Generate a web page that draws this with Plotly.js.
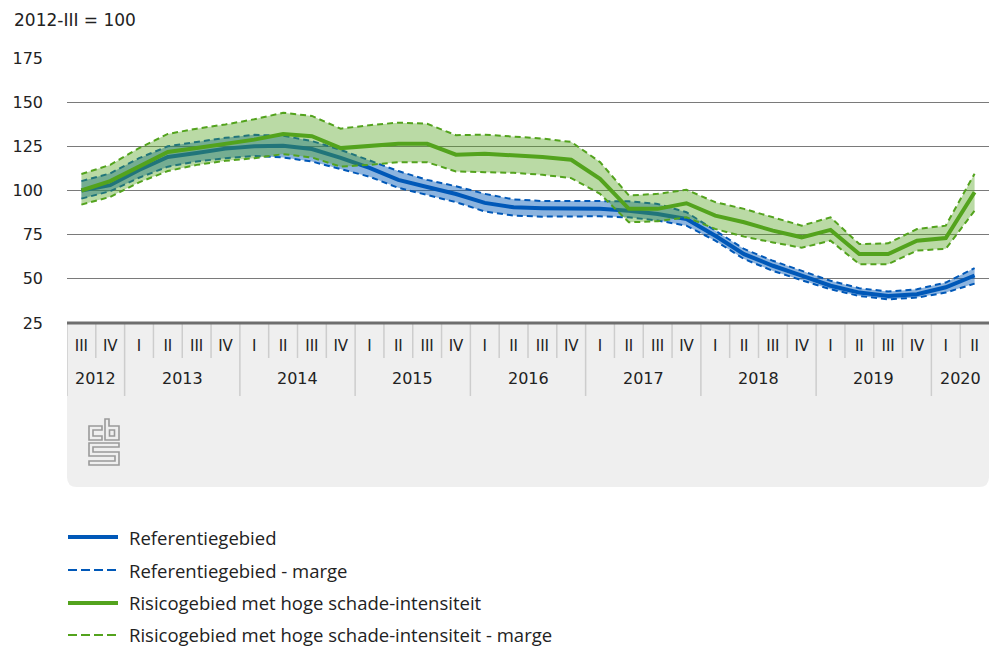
<!DOCTYPE html>
<html>
<head>
<meta charset="utf-8">
<script src="https://cdn.plot.ly/plotly-3.0.1.min.js"></script>
<style>
html,body{margin:0;padding:0;background:#fff;}
#chart{width:989px;height:651px;}
</style>
</head>
<body>
<div id="chart"></div>
<script>
const quarters = ["2012-III","2012-IV",
  "2013-I","2013-II","2013-III","2013-IV",
  "2014-I","2014-II","2014-III","2014-IV",
  "2015-I","2015-II","2015-III","2015-IV",
  "2016-I","2016-II","2016-III","2016-IV",
  "2017-I","2017-II","2017-III","2017-IV",
  "2018-I","2018-II","2018-III","2018-IV",
  "2019-I","2019-II","2019-III","2019-IV",
  "2020-I","2020-II"];
const quarterLabels = ["III","IV","I","II","III","IV","I","II","III","IV","I","II","III","IV",
  "I","II","III","IV","I","II","III","IV","I","II","III","IV","I","II","III","IV","I","II"];
const yearLabels = ["2012","2013","2014","2015","2016","2017","2018","2019","2020"];

const refMain = [100,103,111.6,119,121.2,123.7,125,125.3,123.5,118.5,112.8,106,102,98,93,90.5,
  90,89.7,89.6,88.6,86.7,83.9,74.4,64,57.4,51.8,46.1,42.2,40.3,41.3,45.2,51.9];
const refUpper = [105.3,109.7,118.3,125,127.5,129.8,131.5,131,128,123,117,111,106,102.4,98.1,95,
  94,93.8,94,93.9,92.4,87.7,77.3,66.9,60.2,54.5,48.9,44.7,42.8,44.1,47.9,56.1];
const refLower = [95.4,99.6,107.2,113.5,116.4,118.3,119.5,118.7,116.4,112,107.8,101.5,97.3,93.4,88.1,85.8,
  85.2,85.2,85.4,84.8,83,80.1,71.6,61.2,54.5,49.2,44.1,40.3,38.4,39.4,42.2,47.3];

const riskMain = [100,105.3,113.5,121.8,124,126.5,128.8,132,130.7,124,125,126.4,126.4,120.3,120.8,119.9,
  118.9,117.4,106.6,89.6,89.6,92.8,85.8,82,77.3,73.5,77.7,64,64,71.6,73.1,99];
const riskUpper = [109.3,114.5,124,132,135,137.4,140.3,144,142.2,135,137,138.4,137.8,131.3,131.6,130.3,
  129.4,127.5,116.1,97.2,98.1,100.4,93.4,89.6,84.8,80.1,84.8,69.7,70.1,78.2,80.1,109.5];
const riskLower = [92,96.4,104.6,111,114.5,116.8,118.3,120.6,118.7,113.5,114.5,116,116,110.8,110.4,110,
  108.9,107,98.1,82,82.6,84.8,78.2,73.9,70.6,67.6,71.6,58.3,58.3,66,67,88.6];

const legendNames = ["Referentiegebied","Referentiegebied - marge",
  "Risicogebied met hoge schade-intensiteit","Risicogebied met hoge schade-intensiteit - marge"];
const yTitle = "2012-III = 100";

const BLUE = "#0058b8", GREEN = "#53a31d";
const DASH = "6px,4px";

const traces = [
  {x: quarters, y: refUpper, mode:"lines", line:{color:BLUE, width:2, dash:DASH}, hoverinfo:"skip"},
  {x: quarters, y: refLower, mode:"lines", line:{color:BLUE, width:2, dash:DASH}, fill:"tonexty",
   fillcolor:"rgba(0,88,184,0.45)", hoverinfo:"skip"},
  {x: quarters, y: refMain, mode:"lines", line:{color:BLUE, width:4}, hoverinfo:"skip"},
  {x: quarters, y: riskUpper, mode:"lines", line:{color:GREEN, width:2, dash:DASH}, hoverinfo:"skip"},
  {x: quarters, y: riskLower, mode:"lines", line:{color:GREEN, width:2, dash:DASH}, fill:"tonexty",
   fillcolor:"rgba(83,163,29,0.4)", hoverinfo:"skip"},
  {x: quarters, y: riskMain, mode:"lines", line:{color:GREEN, width:4}, hoverinfo:"skip"}
];

// geometry helpers (plot area: x 67..989, y 58..323)
const PL = 67, PW = 922, PT = 58, PH = 265;
const px2x = p => (p - PL) / PW;
const py2y = p => (PT + PH - p) / PH;

const shapes = [];
const annotations = [];

// grey panel under the axis
const pTop = 0, pBot = py2y(487), rx = 10/PW, ry = 10/PH;
shapes.push({type:"path", xref:"paper", yref:"paper", layer:"below",
  path:`M 0,${pTop} L 1,${pTop} L 1,${pBot+ry} Q 1,${pBot} ${1-rx},${pBot} L ${rx},${pBot} Q 0,${pBot} 0,${pBot+ry} Z`,
  fillcolor:"#efefef", line:{width:0}});

// separators
const sepTop = 0, sepShort = py2y(358), sepLong = py2y(396);
shapes.push({type:"line", xref:"x", yref:"paper", x0:-0.5, x1:-0.5, y0:sepTop, y1:sepLong,
  line:{color:"#cdcdcd", width:1.5}});
for (let i = 1; i < quarters.length; i++) {
  const isYear = quarters[i].endsWith("-I");
  shapes.push({type:"line", xref:"x", yref:"paper", x0:i-0.5, x1:i-0.5, y0:sepTop,
    y1: isYear ? sepLong : sepShort, line:{color:"#cdcdcd", width:1.5}});
}

// year labels
yearLabels.forEach(yr => {
  const idx = quarters.map((q,i)=>q.startsWith(yr)?i:-1).filter(i=>i>=0);
  const mid = (idx[0] + idx[idx.length-1]) / 2;
  annotations.push({xref:"x", yref:"paper", x:mid, y:py2y(378), text:yr, showarrow:false,
    xanchor:"center", yanchor:"middle", font:{family:"DejaVu Sans", size:16, color:"#222"}});
});

// y title
annotations.push({xref:"paper", yref:"paper", x:px2x(12), y:py2y(20), text:yTitle, showarrow:false,
  xanchor:"left", yanchor:"middle", font:{family:"DejaVu Sans", size:17, color:"#222"}});

// custom legend
const legRows = [537, 570, 603, 635];
const legStyles = [
  {color:BLUE, width:4, dash:"solid"},
  {color:BLUE, width:2, dash:"9px,4px"},
  {color:GREEN, width:4, dash:"solid"},
  {color:GREEN, width:2, dash:"9px,4px"}
];
legendNames.forEach((name, k) => {
  const yy = py2y(legRows[k]);
  shapes.push({type:"line", xref:"paper", yref:"paper", x0:px2x(68), x1:px2x(118), y0:yy, y1:yy,
    line:legStyles[k]});
  annotations.push({xref:"paper", yref:"paper", x:px2x(127), y:yy, text:name, showarrow:false,
    xanchor:"left", yanchor:"middle", font:{family:"Open Sans", size:18.5, color:"#222"}});
});

// CBS logo
const logoSvg = '<svg xmlns="http://www.w3.org/2000/svg" width="32" height="48" viewBox="0 0 32 48">' +
  '<g fill="none" stroke="#9a9a9a" stroke-width="1.6">' +
  '<path d="M1,8 H14 V12 H5 V18 H14 V22 H1 Z"/>' +
  '<path d="M17,1 H21 V8 H31 V22 H17 Z"/>' +
  '<path d="M21.5,12 H26.5 V18 H21.5 Z"/>' +
  '<path d="M1,25 H31 V29 H5 V34 H31 V47 H1 V43 H27 V38 H1 Z"/>' +
  '</g></svg>';

const layout = {
  width: 989, height: 651,
  margin: {l: PL, r: 989 - PL - PW, t: PT, b: 651 - PT - PH, pad: 0},
  paper_bgcolor: "#fff", plot_bgcolor: "#fff",
  showlegend: false,
  font: {family: "DejaVu Sans", size: 16, color: "#222"},
  xaxis: {
    type: "category", categoryorder: "array", categoryarray: quarters,
    range: [-0.5, quarters.length - 0.5],
    tickvals: quarters, ticktext: quarterLabels,
    showgrid: false, zeroline: false, ticks: "",
    showline: false,
    ticklabelstandoff: 12,
    tickfont: {family: "DejaVu Sans", size: 15, color: "#222"},
    fixedrange: true
  },
  yaxis: {
    range: [25, 175],
    tickvals: [25, 50, 75, 100, 125, 150, 175],
    showgrid: true, gridcolor: "#7a7a7a", gridwidth: 1,
    zeroline: false, ticks: "", showline: false,
    ticklabelstandoff: 23,
    tickfont: {family: "DejaVu Sans", size: 16, color: "#222"},
    fixedrange: true
  },
  shapes: shapes.concat([{type:"line", xref:"paper", yref:"paper", x0:0, x1:1, y0:0, y1:0,
    line:{color:"#6e6e6e", width:3}}]),
  annotations: annotations,
  images: [{
    source: "data:image/svg+xml;utf8," + encodeURIComponent(logoSvg),
    xref: "paper", yref: "paper", x: px2x(88), y: py2y(418),
    sizex: 32 / PW, sizey: 48 / PH, xanchor: "left", yanchor: "top",
    sizing: "stretch", layer: "above"
  }]
};

Plotly.newPlot("chart", traces, layout, {staticPlot: true, displayModeBar: false});
</script>
</body>
</html>
